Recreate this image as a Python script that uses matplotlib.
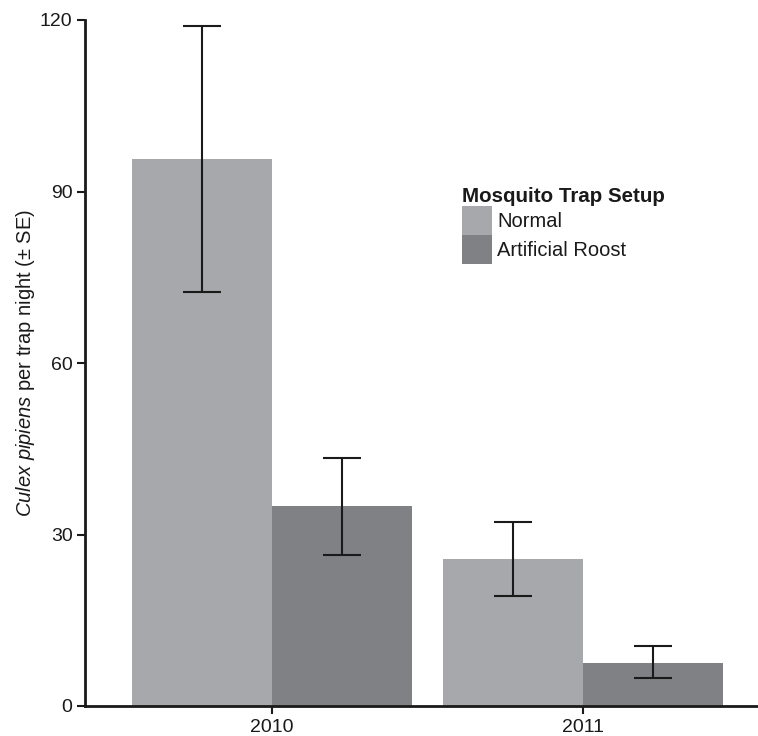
import numpy as np
import matplotlib
matplotlib.use("Agg")
import matplotlib.pyplot as plt

plt.rcParams["font.family"] = ["Liberation Sans", "DejaVu Sans"]
plt.rcParams["mathtext.fontset"] = "custom"
plt.rcParams["mathtext.it"] = "Liberation Sans:italic"
plt.rcParams["mathtext.rm"] = "Liberation Sans"

# ── data ──────────────────────────────────────────────────────────────────────
years = ["2010", "2011"]
normal_mean = [95.7, 25.7]
normal_lo = [72.4, 19.2]
normal_hi = [118.9, 32.2]
roost_mean = [35.0, 7.5]
roost_lo = [26.4, 4.9]
roost_hi = [43.4, 10.5]
COLORS = {"Normal": "#a7a8ab", "Artificial Roost": "#808184"}

# ── plot ──────────────────────────────────────────────────────────────────────
fig = plt.figure(figsize=(7.58, 7.36), dpi=100)
ax = fig.add_axes([85 / 758, 1 - 706 / 736, 1 - 85 / 758, (706 - 20) / 736])

x = np.arange(len(years))
w = 0.45
series = [
    ("Normal", normal_mean, normal_lo, normal_hi, -w / 2),
    ("Artificial Roost", roost_mean, roost_lo, roost_hi, w / 2),
]
for label, mean, lo, hi, off in series:
    mean = np.array(mean); lo = np.array(lo); hi = np.array(hi)
    ax.bar(x + off, mean, width=w, color=COLORS[label], label=label, zorder=1)
    ax.errorbar(x + off, mean, yerr=[mean - lo, hi - mean], fmt="none",
                ecolor="#1a1a1a", elinewidth=1.5, capsize=14, capthick=1.5, zorder=2)

ax.set_xlim(-0.601, 1.563)
ax.set_ylim(0, 120)
ax.set_yticks([0, 30, 60, 90, 120])
ax.set_xticks(x)
ax.set_xticklabels(years)
ax.tick_params(labelsize=14, length=6, width=1.5, pad=3, color="#1a1a1a", labelcolor="#1a1a1a")
for s in ["top", "right"]:
    ax.spines[s].set_visible(False)
for s in ["left", "bottom"]:
    ax.spines[s].set_linewidth(2)
    ax.spines[s].set_color("#1a1a1a")

ax.set_ylabel(r"$\it{Culex\ pipiens}$ per trap night (± SE)", fontsize=14.5,
              color="#1a1a1a", labelpad=2)

leg = ax.legend(title="Mosquito Trap Setup", loc="upper left",
                bbox_to_anchor=(462 / 758, 1 - 187 / 736), bbox_transform=fig.transFigure,
                frameon=False, fontsize=14.5, title_fontproperties={"weight": "bold", "size": 14.8},
                handlelength=1.49, handleheight=1.84, labelspacing=0, handletextpad=0.25,
                borderpad=0, borderaxespad=0, alignment="left")
for t in leg.get_texts():
    t.set_color("#1a1a1a")
leg.get_title().set_color("#1a1a1a")

fig.savefig("out.png", dpi=100)
